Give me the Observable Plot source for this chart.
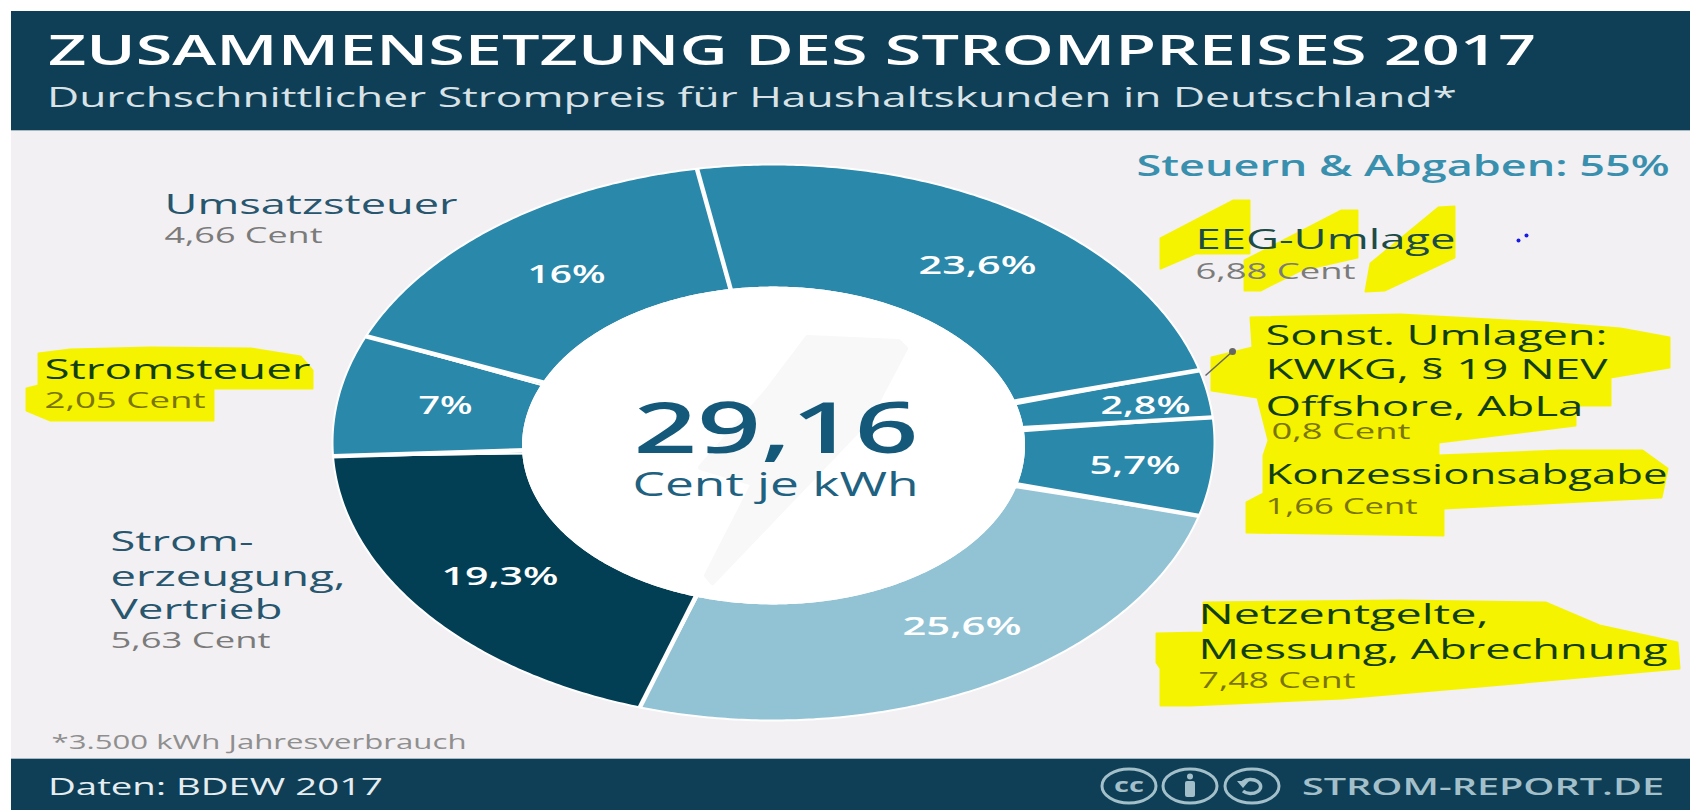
<!DOCTYPE html>
<html lang="de">
<head>
<meta charset="utf-8">
<script src="https://cdn.jsdelivr.net/npm/d3@7"></script>
<script src="https://cdn.jsdelivr.net/npm/@observablehq/plot@0.6"></script>
<style>
  html, body { margin: 0; padding: 0; width: 1690px; height: 810px; overflow: hidden; background: #fff; font-family: "Open Sans", sans-serif; }
  #header { position: absolute; left: 11px; top: 11px; width: 1679px; height: 119px; background: #0e3f56; border-bottom: 1px solid #a7bac3; }
  #footer { position: absolute; left: 11px; top: 758px; width: 1679px; height: 51px; background: #0e3f56; border-top: 1px solid #a7bac3; }
  .fit { position: absolute; white-space: nowrap; line-height: 1; transform-origin: left center; }
  #chart { position: absolute; left: 0; top: 131px; width: 1690px; height: 627px; background: linear-gradient(to right, #fff 11px, #f2f0f2 11px); }
  #chart svg { display: block; }
  #icons { position: absolute; left: 0; top: 758px; }
</style>
</head>
<body>
<div id="header"></div>
<div id="chart"></div>
<div id="footer"></div>
<svg id="icons" width="1690" height="52"></svg>
<script>
// ---------- chart data ----------
const titleText = "ZUSAMMENSETZUNG DES STROMPREISES 2017";
const subtitleText = "Durchschnittlicher Strompreis für Haushaltskunden in Deutschland*";
const groupText = "Steuern & Abgaben: 55%";
const totalText = "29,16";
const unitText = "Cent je kWh";
const noteText = "*3.500 kWh Jahresverbrauch";
const sourceText = "Daten: BDEW 2017";
const brandText = "STROM-REPORT.DE";

const sliceKeys = ["EEG", "Sonst", "Konz", "Netz", "Erz", "StromSt", "USt"];
const sliceCents = [6.88, 0.8, 1.66, 7.48, 5.63, 2.05, 4.66];
const slicePercents = ["23,6%", "2,8%", "5,7%", "25,6%", "19,3%", "7%", "16%"];
const sliceColors = ["#2a88aa", "#2a88aa", "#2a88aa", "#92c3d5", "#023f54", "#2a88aa", "#2a88aa"];
const sliceLines = [
  ["EEG-Umlage"],
  ["Sonst. Umlagen:", "KWKG, § 19 NEV", "Offshore, AbLa"],
  ["Konzessionsabgabe"],
  ["Netzentgelte,", "Messung, Abrechnung"],
  ["Strom-", "erzeugung,", "Vertrieb"],
  ["Stromsteuer"],
  ["Umsatzsteuer"]
];

// ---------- layout (page pixels) ----------
const top0 = 131;
const cx = 773, cy = 442, rx = 441, ry = 278;
const holeShift = 3 / ry, holeRatio = 0.568, startAngle = -10 * Math.PI / 180;
const ux = p => (p - cx) / rx;
const uy = p => (p - cy) / ry;

const dark = "#27566e", grey = "#7b7b7b", onYellow = "#123f12", greyOnYellow = "#7a7500";
// per line: [x start, x end, baseline]
const lineBoxes = [
  [[1195, 1455, 248]],
  [[1265, 1607, 344], [1265, 1607, 378], [1265, 1583, 415]],
  [[1265, 1667, 483]],
  [[1198, 1488, 623], [1198, 1667, 658]],
  [[110, 253, 550], [110, 345, 585], [110, 282, 618]],
  [[44, 310, 378]],
  [[164, 457, 213]]
];
const lineColors = ["#1c4c48", onYellow, onYellow, onYellow, dark, onYellow, dark];
const centBoxes = [[1195, 1355, 278], [1271, 1410, 438], [1265, 1417, 513], [1198, 1355, 687], [110, 270, 647], [44, 205, 407], [164, 322, 242]];
const centColors = [grey, greyOnYellow, greyOnYellow, greyOnYellow, grey, greyOnYellow, grey];
const pctBoxes = [[918, 1036, 273], [1100, 1190, 413], [1089, 1180, 473], [902, 1021, 634], [441, 558, 584], [418, 472, 413], [527, 605, 282]];

const highlightShapes = [
  [[38,353],[70,349],[150,347],[250,348],[300,356],[312,370],[312,388],[213,388],[213,420],[50,420],[26,410],[26,388],[38,385]],
  [[1160,238],[1233,200],[1249,200],[1249,253],[1195,253],[1160,268]],
  [[1244,260],[1341,210],[1357,210],[1357,257],[1300,270],[1260,290],[1244,290]],
  [[1370,263],[1438,207],[1454,206],[1454,257],[1384,290],[1365,291]],
  [[1250,317],[1400,314],[1545,322],[1620,328],[1669,337],[1669,367],[1610,377],[1610,405],[1575,405],[1575,425],[1438,442],[1438,455],[1560,450],[1642,450],[1667,468],[1661,497],[1443,508],[1443,535],[1246,532],[1246,502],[1263,493],[1263,455],[1268,440],[1257,397],[1211,390],[1211,357],[1252,347]],
  [[1203,602],[1400,600],[1545,602],[1599,625],[1677,642],[1679,668],[1491,685],[1341,698],[1190,705],[1160,705],[1160,668],[1156,662],[1156,633],[1203,632]]
];
const boltShape = [[807,337],[898,341],[905,348],[867,420],[712,582],[706,575],[753,483],[700,467],[767,390]];

// ---------- build geometry from the data ----------
const total = d3.sum(sliceCents);
let acc = startAngle;
const slices = sliceCents.map((v, i) => {
  const a0 = acc, a1 = acc + v / total * 2 * Math.PI;
  acc = a1;
  return { key: sliceKeys[i], a0, a1 };
});
function arcPoints(s) {
  const n = Math.max(8, Math.ceil((s.a1 - s.a0) / 0.01));
  const pts = [];
  for (let k = 0; k <= n; k++) {
    const a = s.a0 + (s.a1 - s.a0) * k / n;
    pts.push({ key: s.key, x: Math.sin(a), y: -Math.cos(a) });
  }
  for (let k = n; k >= 0; k--) {
    const a = s.a0 + (s.a1 - s.a0) * k / n;
    pts.push({ key: s.key, x: holeRatio * Math.sin(a), y: holeShift - holeRatio * Math.cos(a) });
  }
  return pts;
}
const slicePoints = slices.flatMap(arcPoints);
const holePoints = d3.range(0, 2 * Math.PI, 0.01).map(a => ({ x: holeRatio * Math.sin(a), y: holeShift - holeRatio * Math.cos(a) }));

// ---------- text rows ----------
const rows = [];
const addRow = (text, box, size, color, weight) =>
  rows.push({ text, x: box[0], x2: box[1], y: box[2], size, color, weight });
sliceLines.forEach((lines, i) => lines.forEach((t, j) => addRow(t, lineBoxes[i][j], 28, lineColors[i], 400)));
sliceCents.forEach((v, i) => addRow(String(v).replace(".", ",") + " Cent", centBoxes[i], 22, centColors[i], 400));
slicePercents.forEach((t, i) => addRow(t, pctBoxes[i], 26, "#ffffff", 600));
addRow(groupText, [1136, 1669, 175], 28, "#388fae", 600);
addRow(totalText, [633, 918, 452], 70, "#15597a", 600);
addRow(unitText, [632, 918, 495], 32, "#1f6180", 400);
addRow(noteText, [51, 466, 748], 20, "#8f8f8f", 400);

const textMarks = Array.from(d3.group(rows, d => d.color + "|" + d.weight).values(), g =>
  Plot.text(g, {
    x: d => ux(d.x), y: d => uy(d.y), text: "text", fontSize: "size",
    fill: g[0].color, fontWeight: g[0].weight, textAnchor: "start", lineAnchor: "bottom"
  }));

const chart = Plot.plot({
  width: 1690, height: 627, margin: 0,
  style: { background: "transparent", fontFamily: "'Open Sans', sans-serif", overflow: "visible" },
  x: { domain: [-1, 1], range: [cx - rx, cx + rx], axis: null },
  y: { domain: [-1, 1], range: [cy - ry - top0, cy + ry - top0], axis: null },
  color: { domain: sliceKeys, range: sliceColors },
  marks: [
    Plot.line(slicePoints, { x: "x", y: "y", z: "key", fill: "key", stroke: "#ffffff", strokeWidth: 2, curve: "linear-closed" }),
    Plot.link(slices, {
      x1: d => 0.5 * Math.sin(d.a0), y1: d => -0.5 * Math.cos(d.a0),
      x2: d => Math.sin(d.a0), y2: d => -Math.cos(d.a0),
      stroke: "#ffffff", strokeWidth: 4.5
    }),
    Plot.line(holePoints, { x: "x", y: "y", fill: "#ffffff", stroke: "#ffffff", strokeWidth: 2, curve: "linear-closed" }),
    Plot.line(boltShape, { x: d => ux(d[0]), y: d => uy(d[1]), fill: "#f8f8f8", stroke: "#f8f8f8", strokeWidth: 5, strokeLinejoin: "round", curve: "linear-closed" }),
    highlightShapes.map(shape => Plot.line(shape, { x: d => ux(d[0]), y: d => uy(d[1]), fill: "#f5f300", stroke: "#f5f300", strokeWidth: 2, strokeLinejoin: "round", curve: "linear-closed" })),
    Plot.link([[1205, 375, 1232, 351]], { x1: d => ux(d[0]), y1: d => uy(d[1]), x2: d => ux(d[2]), y2: d => uy(d[3]), stroke: "#666666", strokeWidth: 1.5 }),
    Plot.dot([[1232, 351]], { x: d => ux(d[0]), y: d => uy(d[1]), r: 3.5, fill: "#666666" }),
    Plot.dot([[1518, 240], [1526, 235]], { x: d => ux(d[0]), y: d => uy(d[1]), r: 2, fill: "#1a1ae6" }),
    textMarks
  ]
});
document.getElementById("chart").append(chart);

// stretch each text to the width measured on the reference
const widthOf = new Map(rows.map(r => [r.text, r.x2 - r.x]));
chart.querySelectorAll("text").forEach(t => {
  const w = widthOf.get(t.textContent);
  if (w) { t.setAttribute("textLength", w); t.setAttribute("lengthAdjust", "spacingAndGlyphs"); }
});

// ---------- header and footer ----------
function addFit(text, x, x2, baseline, size, color, weight) {
  const el = document.createElement("div");
  el.className = "fit";
  el.textContent = text;
  el.style.cssText = `left:${x}px;top:${baseline - size * 0.888}px;font-size:${size}px;color:${color};font-weight:${weight};`;
  document.body.append(el);
  el.style.transform = `scaleX(${(x2 - x) / el.getBoundingClientRect().width})`;
}
addFit(titleText, 48, 1536, 65, 41, "#ffffff", 600);
addFit(subtitleText, 47, 1457, 107, 27, "#d9e3e7", 400);
addFit(sourceText, 48, 383, 795, 24, "#e6edf0", 400);
addFit(brandText, 1302, 1664, 795, 24, "#a3bfca", 600);

const ic = d3.select("#icons");
const icon = "#a3bfca";
[1129, 1190, 1252].forEach(x => ic.append("ellipse").attr("cx", x).attr("cy", 28).attr("rx", 27).attr("ry", 17)
  .attr("fill", "none").attr("stroke", icon).attr("stroke-width", 3));
ic.append("text").attr("x", 1129).attr("y", 34).attr("text-anchor", "middle").attr("font-size", 20).attr("font-weight", 700)
  .attr("font-family", "Open Sans").attr("textLength", 30).attr("lengthAdjust", "spacingAndGlyphs").attr("fill", icon).text("cc");
ic.append("circle").attr("cx", 1190).attr("cy", 18.5).attr("r", 3).attr("fill", icon);
ic.append("rect").attr("x", 1185).attr("y", 23).attr("width", 10).attr("height", 16).attr("rx", 2).attr("fill", icon);
ic.append("path").attr("d", "M1243 24 a10 7 0 1 1 0 9").attr("fill", "none").attr("stroke", icon).attr("stroke-width", 3.5);
ic.append("path").attr("d", "M1237 23 h12 l-6 7 z").attr("fill", icon);
</script>
</body>
</html>
